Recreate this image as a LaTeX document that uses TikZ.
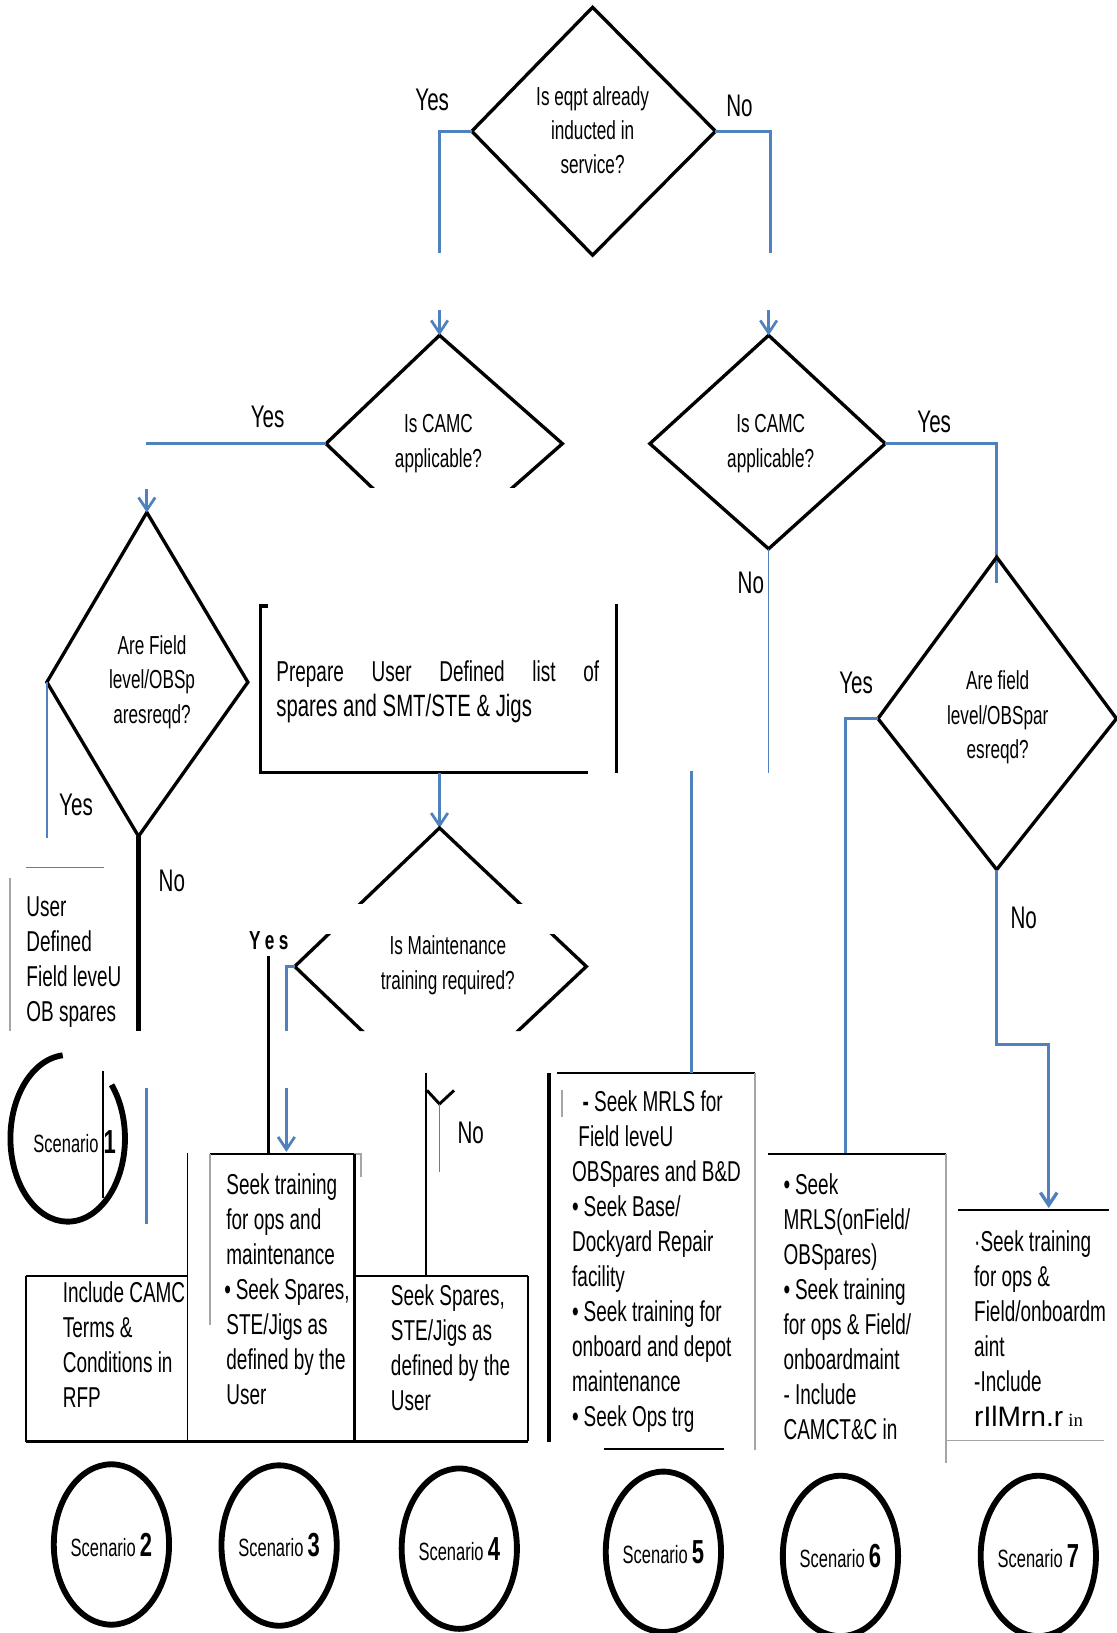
\documentclass[tikz,border=0pt]{standalone}
\usepackage{fontspec}
\setmainfont{Liberation Sans}
\newfontfamily\nar{Liberation Sans}[FakeStretch=0.66]
\newfontfamily\serf{Liberation Serif}
\usetikzlibrary{arrows.meta,shapes.geometric}
\definecolor{blu}{RGB}{79,129,189}
\definecolor{gry}{RGB}{165,165,165}
\begin{document}
\begin{tikzpicture}[x=0.5pt,y=-0.5pt,
 dia/.style={draw=black,line width=1.6pt,line join=miter},
 bln/.style={draw=blu,line width=1.3pt},
 blthin/.style={draw=blu,line width=0.8pt},
 blk/.style={draw=black,line width=1.2pt},
 blkthin/.style={draw=black,line width=0.8pt},
 gln/.style={draw=gry,line width=1pt},
 arr/.style={-{Straight Barb[length=6pt,width=8pt]}},
 lab/.style={font=\nar\fontsize{15}{16}\selectfont,inner sep=0pt},
 qtxt/.style={font=\nar\fontsize{12.5}{16.5}\selectfont,align=center,inner sep=0pt},
 btxt/.style={font=\nar\fontsize{13.8}{16.8}\selectfont,align=left,anchor=north west,inner sep=0pt},
 scen/.style={ellipse,draw,line width=2.8pt,inner sep=0pt,minimum width=51pt,minimum height=77pt,font=\nar\fontsize{12}{13}\selectfont},
 num/.style={font=\nar\bfseries\fontsize{16}{16}\selectfont}
]
\useasboundingbox (0,0) rectangle (1072,1568);
\fill[white] (0,0) rectangle (1072,1568);

% ---------- D1 ----------
\coordinate (d1t) at (569,7); \coordinate (d1r) at (687,126);
\coordinate (d1b) at (569,245); \coordinate (d1l) at (453,126);
\draw[dia] (d1t) -- (d1r) -- (d1b) -- (d1l) -- cycle;
\node[qtxt] (q1) at (569,125) {Is eqpt already\\inducted in\\service?};
\node[lab] (y1) at (415,96) {Yes};
\node[lab] (n1) at (710,102) {No};
\coordinate (y1c) at (422,126); \coordinate (y1e) at (422,243);
\coordinate (n1c) at (740,126); \coordinate (n1e) at (740,243);
\draw[bln] (d1l) -- (y1c) -- (y1e);
\draw[bln] (d1r) -- (n1c) -- (n1e);

% ---------- D2 (left CAMC) ----------
\coordinate (d2t) at (422,322); \coordinate (d2r) at (540,426);
\coordinate (d2b) at (422,530); \coordinate (d2l) at (313,426);
\begin{scope}
\clip (0,300) rectangle (1072,468);
\draw[dia] (d2t) -- (d2r) -- (d2b) -- (d2l) -- cycle;
\end{scope}
\node[qtxt] (q2) at (421,426) {Is CAMC\\applicable?};
\coordinate (a1s) at (422,298);
\draw[bln,arr] (a1s) -- (d2t);
\coordinate (y2e) at (140,426);
\draw[bln] (d2l) -- (y2e);
\node[lab] (y2) at (257,400) {Yes};

% ---------- D4 (right CAMC) ----------
\coordinate (d4t) at (738,322); \coordinate (d4r) at (850,426);
\coordinate (d4b) at (738,527); \coordinate (d4l) at (624,426);
\draw[dia] (d4t) -- (d4r) -- (d4b) -- (d4l) -- cycle;
\node[qtxt] (q4) at (740,426) {Is CAMC\\applicable?};
\coordinate (a2s) at (738,298);
\draw[bln,arr] (a2s) -- (d4t);
\coordinate (y4c) at (957,426); \coordinate (y4e) at (957,560);
\draw[bln] (d4r) -- (y4c) -- (y4e);
\node[lab] (y4) at (897,405) {Yes};
\coordinate (n4e) at (738,742);
\draw[blthin] (d4b) -- (n4e);
\node[lab] (n4) at (721,560) {No};

% ---------- D3 ----------
\coordinate (d3t) at (141,492); \coordinate (d3r) at (238,655);
\coordinate (d3b) at (133,803); \coordinate (d3l) at (45,655);
\draw[dia] (d3t) -- (d3r) -- (d3b) -- (d3l) -- cycle;
\node[qtxt] (q3) at (146,655) {Are Field\\level/OBSp\\aresreqd?};
\coordinate (a3s) at (141,470);
\draw[bln,arr] (a3s) -- (d3t);
\coordinate (y3e) at (45,805);
\draw[bln] (d3l) -- (y3e);
\node[lab] (y3) at (73,773) {Yes};
\coordinate (n3e) at (133,990);
\draw[draw=black,line width=2pt] (d3b) -- (n3e);
\node[lab] (n3) at (165,846) {No};

% User defined
\coordinate (u1) at (25,833); \coordinate (u2) at (100,833);
\draw[blthin] (u1) -- (u2);
\coordinate (u3) at (10,843); \coordinate (u4) at (10,990);
\draw[gln] (u3) -- (u4);
\node[btxt] (ut) at (25,861) {User\\Defined\\Field leveU\\OB spares};

% Scenario 1
\coordinate (s1c) at (65,1093);
\draw[line width=2.8pt] ([shift={(-95:55 and 80)}]s1c) arc[start angle=-95,end angle=-400,x radius=55,y radius=80];
\coordinate (s1a) at (99,1028); \coordinate (s1b) at (99,1150);
\draw[blk] (s1a) -- (s1b);
\node[font=\nar\fontsize{12}{13}\selectfont,inner sep=0pt,anchor=east] (s1) at (95,1098) {Scenario};
\node[num,anchor=west,inner sep=0pt] (s1n) at (99,1097) {1};
\coordinate (s1d) at (141,1045); \coordinate (s1e) at (141,1175);
\draw[bln] (s1d) -- (s1e);

% ---------- Prepare box ----------
\coordinate (p1) at (257,582); \coordinate (p2) at (250,582);
\coordinate (p3) at (250,742); \coordinate (p4) at (565,742);
\draw[draw=black,line width=1.6pt] (p1) -- (p2) -- (p3) -- (p4);
\coordinate (p5) at (592,580); \coordinate (p6) at (592,742);
\draw[blk] (p5) -- (p6);
\node[btxt] (pt) at (265,634) {\makebox[155pt][s]{Prepare User Defined list of}\\{\fontsize{14.8}{16.8}\selectfont spares and SMT/STE \& Jigs}};
\coordinate (pa) at (422,742);

% ---------- D5 ----------
\coordinate (d5t) at (422,795); \coordinate (d5r) at (563,928);
\coordinate (d5b) at (422,1061); \coordinate (d5l) at (283,928);
\draw[bln,arr] (pa) -- (d5t);
\begin{scope}
\clip (0,780) rectangle (1072,868) (0,897) rectangle (1072,990);
\draw[dia] (d5t) -- (d5r) -- (d5b) -- (d5l) -- cycle;
\end{scope}
\node[qtxt] (q5) at (430,927) {Is Maintenance\\training required?};
\node[font=\nar\bfseries\fontsize{12.5}{14}\selectfont,inner sep=0pt] (y5) at (258,903) {Y\,e\,s};
\coordinate (y5c) at (275,928); \coordinate (y5e) at (275,990);
\draw[bln] (d5l) -- (y5c) -- (y5e);
\coordinate (y5k1) at (258,918); \coordinate (y5k2) at (258,1108);
\draw[blk] (y5k1) -- (y5k2);
\coordinate (y5a) at (275,1045); \coordinate (y5b) at (275,1106);
\draw[bln,arr] (y5a) -- (y5b);
% No of D5
\coordinate (n5a) at (409,1030); \coordinate (n5b) at (409,1225);
\draw[blk] (n5a) -- (n5b);
\coordinate (n5y1) at (410,1047); \coordinate (n5y2) at (436,1047);
\coordinate (n5y0) at (422,1060); \coordinate (n5y3) at (422,1125);
\draw[draw=black,line width=1.4pt] (n5y1) -- (n5y0) -- (n5y2);
\draw[blthin] (n5y0) -- (n5y3);
\node[lab] (n5) at (452,1088) {No};

% ---------- D6 ----------
\coordinate (d6t) at (957,535); \coordinate (d6r) at (1072,690);
\coordinate (d6b) at (957,835); \coordinate (d6l) at (843,690);
\draw[dia] (d6t) -- (d6r) -- (d6b) -- (d6l) -- cycle;
\node[qtxt] (q6) at (958,689) {Are field\\level/OBSpar\\esreqd?};
\coordinate (y6c) at (812,690); \coordinate (y6e) at (812,1108);
\draw[draw=blu,line width=1.6pt] (d6l) -- (y6c) -- (y6e);
\node[lab] (y6) at (822,656) {Yes};
\coordinate (n6c) at (957,1003); \coordinate (n6d) at (1007,1003); \coordinate (n6e) at (1007,1160);
\draw[draw=blu,line width=1.6pt,arr] (d6b) -- (n6c) -- (n6d) -- (n6e);
\node[lab] (n6) at (983,881) {No};

% ---------- bottom-left boxes ----------
\coordinate (b2a) at (25,1225); \coordinate (b2b) at (180,1225);
\coordinate (b2c) at (25,1385);
\draw[blkthin] (b2a) -- (b2b);
\draw[draw=black,line width=1.4pt] (b2a) -- (b2c);
\coordinate (bb1) at (25,1384); \coordinate (bb2) at (507,1384);
\draw[blk] (bb1) -- (bb2);
\coordinate (v1a) at (180,1107); \coordinate (v1b) at (180,1384);
\draw[blkthin] (v1a) -- (v1b);
\node[btxt] (t2) at (60,1230) {Include CAMC\\Terms \&\\Conditions in\\RFP};

\coordinate (b3a) at (202,1108); \coordinate (b3b) at (340,1108);
\draw[blkthin] (b3a) -- (b3b);
\coordinate (b3g1) at (340,1108); \coordinate (b3g2) at (347,1108); \coordinate (b3g3) at (347,1130);
\draw[gln] (b3g1) -- (b3g2) -- (b3g3);
\coordinate (b3c) at (340,1384);
\draw[draw=black,line width=1.5pt] (b3b) -- (b3c);
\coordinate (b3d) at (202,1272);
\draw[gln] (b3a) -- (b3d);
\node[btxt] (t3) at (217,1127) {Seek training\\for ops and\\maintenance\\\hspace{-1pt}•\,Seek Spares,\\STE/Jigs as\\defined by the\\User};

\coordinate (b4a) at (340,1225); \coordinate (b4b) at (507,1225); \coordinate (b4c) at (507,1384);
\draw[blkthin] (b4a) -- (b4b);
\draw[blk] (b4b) -- (b4c);
\node[btxt] (t4) at (375,1233) {Seek Spares,\\STE/Jigs as\\defined by the\\User};

% ---------- box 5 ----------
\coordinate (k5a) at (527,1030); \coordinate (k5b) at (527,1385);
\draw[draw=black,line width=1.6pt] (k5a) -- (k5b);
\coordinate (b5a) at (535,1030); \coordinate (b5b) at (725,1030); \coordinate (b5c) at (725,1392);
\draw[blkthin] (b5a) -- (b5b);
\draw[draw=gry,line width=1.3pt] (b5b) -- (b5c);
\coordinate (b5g1) at (540,1047); \coordinate (b5g2) at (540,1073);
\draw[gln] (b5g1) -- (b5g2);
\coordinate (b5d) at (580,1391); \coordinate (b5e) at (695,1391);
\draw[blkthin] (b5d) -- (b5e);
\coordinate (l5a) at (664,740); \coordinate (l5b) at (664,1030);
\draw[draw=blu,line width=1pt] (l5a) -- (l5b);
\node[btxt] (t5) at (549,1047) {\hspace{5pt}\textbf{-} Seek MRLS for\\\hspace{3pt}Field leveU\\OBSpares and B\&D\\•\,Seek Base/\\Dockyard Repair\\facility\\•\,Seek training for\\onboard and depot\\maintenance\\•\,Seek Ops trg};

% ---------- box 6 ----------
\coordinate (b6a) at (737,1108); \coordinate (b6b) at (908,1108); \coordinate (b6c) at (908,1405);
\draw[blkthin] (b6a) -- (b6b);
\draw[gln] (b6b) -- (b6c);
\node[btxt] (t6) at (752,1127) {•\,Seek\\MRLS(onField/\\OBSpares)\\•\,Seek training\\for ops \& Field/\\onboardmaint\\- Include\\CAMCT\&C in};

% ---------- box 7 ----------
\coordinate (b7a) at (920,1162); \coordinate (b7b) at (1065,1162);
\draw[blkthin] (b7a) -- (b7b);
\coordinate (b7c) at (908,1383); \coordinate (b7d) at (1060,1383);
\draw[draw=gry,line width=0.8pt] (b7c) -- (b7d);
\node[btxt] (t7) at (935,1181) {·Seek training\\for ops \&\\Field/onboardm\\aint\\-Include\\{\fontsize{13.5}{14}\selectfont\rmfamily rIlMrn.r} {\serf\fontsize{9}{10}\selectfont in}};

% ---------- scenarios ----------
\node[scen] (s2) at (107,1483) {Scenario\,\textbf{\fontsize{16}{16}\selectfont 2}};
\node[scen] (s3) at (268,1484) {Scenario\,\textbf{\fontsize{16}{16}\selectfont 3}};
\node[scen] (s4) at (441,1487) {Scenario\,\textbf{\fontsize{16}{16}\selectfont 4}};
\node[scen] (s5) at (637,1490) {Scenario\,\textbf{\fontsize{16}{16}\selectfont 5}};
\node[scen] (s6) at (807,1494) {Scenario\,\textbf{\fontsize{16}{16}\selectfont 6}};
\node[scen] (s7) at (997,1494) {Scenario\,\textbf{\fontsize{16}{16}\selectfont 7}};
\end{tikzpicture}
\end{document}
